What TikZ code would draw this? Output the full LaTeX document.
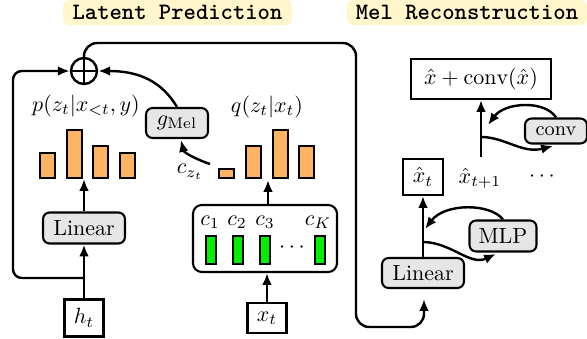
\documentclass[tikz,border=0pt]{standalone}
\usepackage{fontspec}
\usetikzlibrary{arrows.meta}
\newdimen\upx \upx=0.455pt
\definecolor{hdrbg}{RGB}{255,246,204}
\definecolor{barorange}{RGB}{253,180,98}
\definecolor{boxgray}{RGB}{230,230,230}
\definecolor{cbgreen}{RGB}{0,240,0}
\tikzset{
  hdr/.style={fill=hdrbg, rounded corners=3pt, inner sep=0pt, font=\ttfamily\bfseries\fontsize{10.7}{12}\selectfont},
  sq/.style={draw, line width=0.95pt, inner sep=0pt},
  gbox/.style={draw, fill=boxgray, line width=0.95pt, rounded corners=3pt, inner sep=0pt},
  bar/.style={draw, fill=barorange, line width=0.95pt, minimum width=15\upx, anchor=south, inner sep=0pt},
  gbar/.style={draw, fill=cbgreen, line width=0.8pt, minimum width=10\upx, minimum height=28\upx, inner sep=0pt},
  arr/.style={-{Latex[length=5.4pt,width=4.4pt]}, line width=1.1pt},
  lbl/.style={inner sep=0pt}
}
\begin{document}
\begin{tikzpicture}[x=0.455pt,y=-0.455pt]
\useasboundingbox (0,0) rectangle (587,339);
% headers
\node[hdr, minimum width=229\upx, minimum height=25\upx] (h1) at (177.5,12.5) {Latent Prediction};
\node[hdr, minimum width=240\upx, minimum height=25\upx] (h2) at (467,12.5) {Mel Reconstruction};
% sum circle
\node[circle, draw, line width=1.1pt, minimum size=26\upx, inner sep=0pt] (plus) at (84,71) {};
\draw[line width=1.1pt] (plus.north) -- (plus.south) (plus.west) -- (plus.east);
% left column
\node[sq, minimum width=39\upx, minimum height=37\upx] (ht) at (84,318) {$h_t$};
\node[gbox, minimum width=82\upx, minimum height=31\upx] (linL) at (84,228) {Linear};
\node[bar, minimum height=25\upx] (pb1) at (47.5,179) {};
\node[bar, minimum height=48\upx] (pb2) at (74.5,179) {};
\node[bar, minimum height=32\upx] (pb3) at (100.5,179) {};
\node[bar, minimum height=25\upx] (pb4) at (127.5,179) {};
\node[lbl] (plab) at (86,106) {$p(z_t|x_{<t},y)$};
\node[gbox, minimum width=62\upx, minimum height=30\upx] (gmel) at (177,123) {$g_{\mathrm{Mel}}$};
% middle column
\node[lbl] (qlab) at (267,107) {$q(z_t|x_t)$};
\node[bar, minimum height=9\upx] (qb1) at (226.5,179) {};
\node[bar, minimum height=32\upx] (qb2) at (253.5,179) {};
\node[bar, minimum height=48\upx] (qb3) at (280.5,179) {};
\node[bar, minimum height=32\upx] (qb4) at (306.5,179) {};
\node[lbl] (czt) at (190,172) {$c_{z_t}$};
\node[draw, line width=0.95pt, rounded corners=4pt, minimum width=144\upx, minimum height=67\upx] (cb) at (265,238.5) {};
\node[lbl] (c1) at (210,222) {$c_1$};
\node[lbl] (c2) at (237,222) {$c_2$};
\node[lbl] (c3) at (265,222) {$c_3$};
\node[lbl] (cK) at (318,222) {$c_K$};
\node[gbar] (g1) at (211,250) {};
\node[gbar] (g2) at (238,250) {};
\node[gbar] (g3) at (265,250) {};
\node[gbar] (gK) at (320,250) {};
\node[lbl] (cdots) at (292,248) {$\cdots$};
\node[sq, minimum width=39\upx, minimum height=30\upx] (xt) at (267,318) {$x_t$};
% right column
\node[gbox, minimum width=82\upx, minimum height=30\upx] (linR) at (423,273) {Linear};
\node[sq, minimum width=40\upx, minimum height=36\upx] (xh) at (423,177) {$\hat{x}_t$};
\node[lbl] (xh1) at (480,178) {$\hat{x}_{t+1}$};
\node[lbl] (xdots) at (542,177) {$\cdots$};
\node[gbox, minimum width=67\upx, minimum height=31\upx] (mlp) at (503,236) {MLP};
\node[sq, minimum width=140\upx, minimum height=40\upx] (sum) at (481,79) {$\hat{x}+\mathrm{conv}(\hat{x})$};
\node[gbox, minimum width=62\upx, minimum height=25\upx, font=\small] (conv) at (556,131) {conv};
% coordinates
\coordinate (pbase) at (84,179);
\coordinate (qbase) at (268,180);
\coordinate (loopj) at (84,278);
\coordinate (tr) at (356,43);
\coordinate (br) at (424,327);
\coordinate (linRin) at (424,299);
\coordinate (cztstart) at (210,164);
\coordinate (gmelin) at (181,140);
\coordinate (jL) at (424,242);
\coordinate (jL2) at (425,229);
\coordinate (mlpin) at (496,254);
\coordinate (sumfrom) at (481,157);
\coordinate (cj1) at (481,137);
\coordinate (cj2) at (488,125);
\coordinate (convin) at (553,146);
% connectors
\draw[arr] (ht.north) -- (linL.south);
\draw[arr] (linL.north) -- (pbase);
\draw[arr, rounded corners=4pt] (loopj) -- ++(-71,0) |- (plus.west);
\draw[arr] (gmel.north) .. controls (162,82) and (140,71) .. (plus.east);
\draw[arr, rounded corners=6pt] (plus.north) |- (tr) |- (br) -- (linRin);
\draw[arr] (qbase |- cb.north) -- (qbase);
\draw[arr] (xt.north) -- (xt.north |- cb.south);
\draw[arr] (cztstart) .. controls (198,160) and (184,153) .. (gmelin);
\draw[arr] (linR.north) -- (xh.south);
\draw[arr] (jL) .. controls (452,243) and (470,266) .. (mlpin);
\draw[arr] (mlp.north) .. controls (490,203) and (445,203) .. (jL2);
\draw[arr] (sumfrom) -- (sum.south);
\draw[arr] (cj1) .. controls (505,137) and (522,154) .. (convin);
\draw[arr] (conv.north) .. controls (545,100) and (505,102) .. (cj2);
\end{tikzpicture}
\end{document}
